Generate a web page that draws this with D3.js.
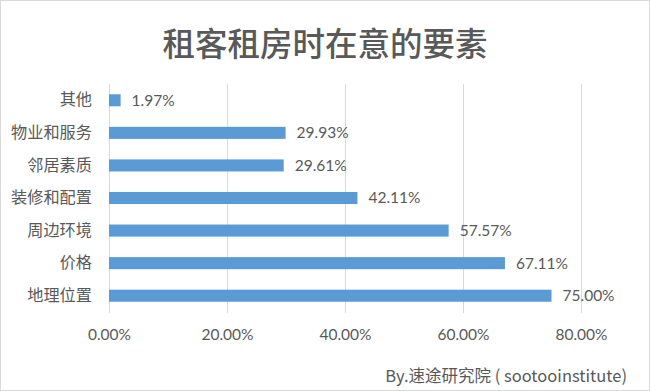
<!DOCTYPE html>
<html><head><meta charset="utf-8">
<script src="https://cdn.jsdelivr.net/npm/d3@7/dist/d3.min.js"></script>
<style>body{margin:0;background:#fff}svg{display:block}</style>
</head><body>
<script>
const title = "租客租房时在意的要素";
const categories = ["其他","物业和服务","邻居素质","装修和配置","周边环境","价格","地理位置"];
const values = [1.97, 29.93, 29.61, 42.11, 57.57, 67.11, 75.00];
const tickValues = [0, 20, 40, 60, 80];
const footer = "By.速途研究院 ( sootooinstitute)";

const W = 650, H = 391;
const numFont = "Lato, 'Liberation Sans', sans-serif";
const cjkFont = "'Noto Sans CJK SC', sans-serif";
const txt = "#595959";

const svg = d3.select("body").append("svg").attr("width", W).attr("height", H);
svg.append("rect").attr("x",0.5).attr("y",0.5).attr("width",W-1).attr("height",H-1)
  .attr("fill","#fff").attr("stroke","#d9d9d9");

const x = d3.scaleLinear().domain([0, 80]).range([109, 581]);
const y = d3.scaleBand().domain(categories).range([84, 312]).paddingInner(0.63).paddingOuter(0.315);

svg.append("text").attr("x", 325).attr("y", 47).attr("text-anchor","middle")
  .attr("dominant-baseline","middle").attr("font-family", cjkFont).attr("font-size", 32.5)
  .attr("font-weight", 500).attr("fill", txt).text(title);

// gridlines
svg.append("g").selectAll("line").data(tickValues).join("line")
  .attr("x1", d => Math.round(x(d))+0.5).attr("x2", d => Math.round(x(d))+0.5)
  .attr("y1", 84).attr("y2", 313).attr("stroke", "#d9d9d9").attr("stroke-width", 1);

// x axis labels
const xAxis = d3.axisBottom(x).tickValues(tickValues).tickSize(0).tickPadding(0)
  .tickFormat(d => d.toFixed(2) + "%");
const gx = svg.append("g").attr("transform", "translate(0,329)").call(xAxis);
gx.select(".domain").remove();
gx.selectAll("text").attr("font-family", numFont).attr("font-size", 15.5).attr("fill", txt);

// y axis labels
const yAxis = d3.axisLeft(y).tickSize(0).tickPadding(0);
const gy = svg.append("g").attr("transform", "translate(92,0)").call(yAxis);
gy.select(".domain").remove();
gy.selectAll("text").attr("font-family", cjkFont).attr("font-size", 16.2).attr("fill", txt);

// bars
svg.append("g").selectAll("rect").data(categories).join("rect")
  .attr("x", x(0)).attr("y", d => y(d))
  .attr("width", (d,i) => x(values[i]) - x(0)).attr("height", y.bandwidth())
  .attr("fill", "#5b9bd5");

// value labels
svg.append("g").selectAll("text").data(categories).join("text")
  .attr("x", (d,i) => x(values[i]) + 11).attr("y", d => y(d) + y.bandwidth()/2)
  .attr("dy", "0.35em").attr("font-family", numFont).attr("font-size", 15.5).attr("fill", txt)
  .text((d,i) => values[i].toFixed(2) + "%");

svg.append("text").attr("x", 627).attr("y", 376).attr("text-anchor","end")
  .attr("dy","0.35em").attr("font-family", cjkFont).attr("font-size", 16.5).attr("fill", txt)
  .text(footer);
</script>
</body></html>
